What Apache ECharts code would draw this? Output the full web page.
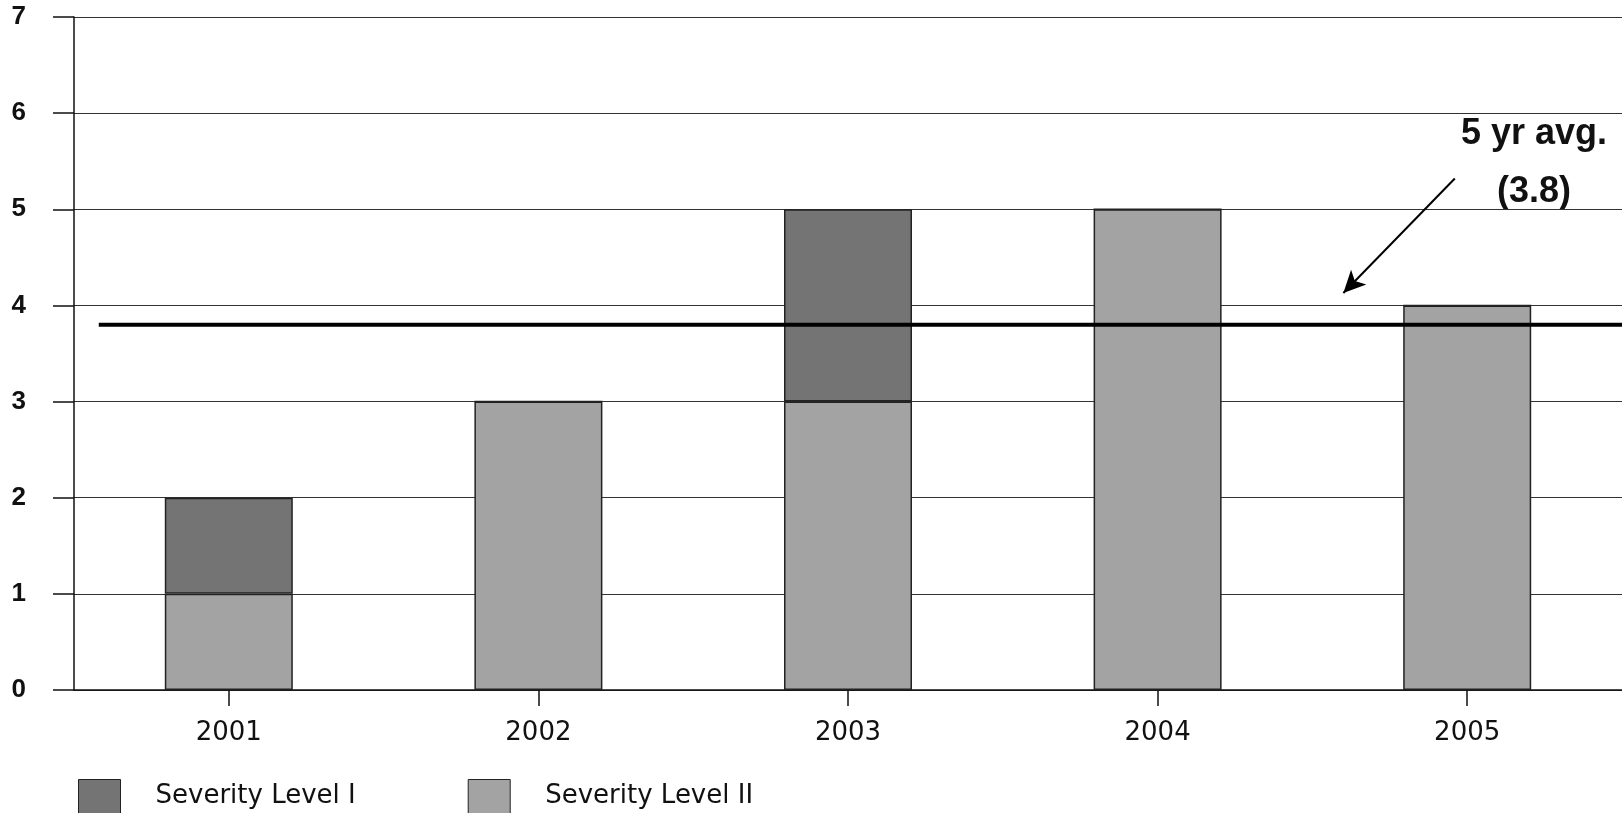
<!DOCTYPE html>
<html>
<head>
<meta charset="utf-8">
<script src="https://cdn.jsdelivr.net/npm/echarts@6/dist/echarts.min.js"></script>
<style>html,body{margin:0;padding:0;background:#fff}#c{width:1622px;height:813px}</style>
</head>
<body>
<div id="c"></div>
<script>
const years = ['2001', '2002', '2003', '2004', '2005'];
const severityI = [1, 0, 2, 0, 0];
const severityII = [1, 3, 3, 5, 4];
const avgValue = 3.8;
const avgLineX = [-0.42, 4.5];
const yTicks = [0, 1, 2, 3, 4, 5, 6, 7];
const arrowFrom = [3.96, 5.32];
const arrowTo = [3.6, 4.13];

const chart = echarts.init(document.getElementById('c'));
chart.setOption({
  animation: false,
  backgroundColor: '#fff',
  grid: { left: 74, right: 0, top: 17, bottom: 123, containLabel: false },
  legend: {
    left: 73, top: 774, orient: 'horizontal',
    itemWidth: 42, itemHeight: 34, itemGap: 112, icon: 'rect',
    data: ['Severity Level I', 'Severity Level II'],
    itemStyle: { borderColor: '#222', borderWidth: 1 },
    textStyle: { fontFamily: 'DejaVu Sans', fontSize: 26, color: '#111', padding: [0, 0, 0, 30] }
  },
  xAxis: [{
    type: 'category', data: years, boundaryGap: true,
    axisLine: { show: true, lineStyle: { color: '#111', width: 1.5 } },
    axisTick: { show: true, alignWithLabel: true, length: 16, lineStyle: { color: '#111', width: 1.5 } },
    axisLabel: { margin: 30, fontFamily: 'DejaVu Sans', fontSize: 26, color: '#111' }
  }, {
    type: 'value', min: -0.5, max: 4.5, show: false
  }],
  yAxis: {
    type: 'value', min: 0, max: 7, interval: 1,
    axisLine: { show: true, onZero: false, lineStyle: { color: '#111', width: 1.5 } },
    axisTick: { show: true, length: 21, inside: false, lineStyle: { color: '#111', width: 1.5 } },
    axisLabel: { margin: 48, fontFamily: 'Liberation Sans', fontWeight: 'bold', fontSize: 26, color: '#111',
      formatter: v => yTicks.includes(v) ? String(v) : '' },
    splitLine: { show: true, lineStyle: { color: '#333', width: 1 } }
  },
  series: [{
    name: 'Severity Level II', type: 'bar', stack: 's', data: severityII, barWidth: 128,
    itemStyle: { color: '#a3a3a3', borderColor: '#222', borderWidth: 1.5 }
  }, {
    name: 'Severity Level I', type: 'bar', stack: 's', data: severityI, barWidth: 128,
    itemStyle: { color: '#747474', borderColor: '#222', borderWidth: 1.5 }
  }, {
    name: 'avg', type: 'line', xAxisIndex: 1, yAxisIndex: 0,
    data: avgLineX.map(x => [x, avgValue]), symbol: 'none', z: 5,
    lineStyle: { color: '#000', width: 4 },
    markLine: {
      silent: true, animation: false, symbolSize: [16, 22],
      lineStyle: { color: '#000', width: 2, type: 'solid' },
      label: { show: false },
      data: [[{ coord: arrowFrom, symbol: 'none' }, { coord: arrowTo, symbol: 'arrow' }]]
    }
  }],
  graphic: [
    { type: 'text', x: 1534, y: 116, style: { text: '5 yr avg.', font: 'bold 36px "Liberation Sans"', fill: '#111', align: 'center' } },
    { type: 'text', x: 1534, y: 174, style: { text: '(' + avgValue.toFixed(1) + ')', font: 'bold 36px "Liberation Sans"', fill: '#111', align: 'center' } }
  ]
});
</script>
</body>
</html>
